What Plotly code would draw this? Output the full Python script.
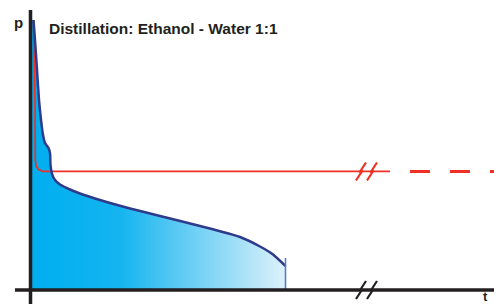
import plotly.graph_objects as go

# ---------------- data (time t, pressure p; arbitrary units) ----------------
t_blue = [1.18, 1.76, 2.55, 3.33, 4.12, 4.90, 5.69, 7.06, 7.65, 7.84, 8.43, 9.61,
          11.57, 15.49, 19.41, 27.25, 39.02, 50.78, 66.47, 82.16, 90.0, 95.1, 100.0]
p_blue = [100.0, 92.6, 81.5, 70.4, 63.0, 57.4, 54.4, 52.6, 50.7, 46.3, 43.0, 40.7,
          39.07, 37.22, 35.74, 33.33, 30.19, 27.41, 23.70, 19.63, 16.11, 13.15, 8.89]
t_end = [100.0, 100.0]
p_end = [11.85, 0.0]

t_red = [1.18, 1.57, 1.76, 1.88, 2.24, 3.14, 4.90, 140.98]
p_red = [100.0, 85.2, 70.4, 48.1, 45.9, 44.6, 43.9, 43.9]
t_red_dash = [148.8, 186.0]
p_red_dash = [43.9, 43.9]

title_text = "Distillation: Ethanol - Water 1:1"
y_label = "p"
x_label = "t"

# ---------------- layout geometry ----------------
OFF = 8                    # page body margin of the browser
W, H = 502 - OFF, 304 - OFF
X0, Y0 = 30.5, 290.0       # reference pixel position of origin
SX, SY = 2.55, 2.70        # pixels per data unit
x_range = [-(X0 - OFF) / SX, (502 - X0) / SX]
y_range = [-(304 - Y0) / SY, (Y0 - OFF) / SY]

def px_t(x):
    return (x - X0) / SX

def px_p(y):
    return (Y0 - y) / SY

def paper_x(x):
    return (x - OFF) / W

def paper_y(y):
    return 1 - (y - OFF) / H

BLACK = "#231f20"
RED = "#ee3124"
NAVY = "#2e3a8c"

fig = go.Figure()

# boundary (y-axis + baseline) for the gradient fill
fig.add_trace(go.Scatter(x=[0.0, 0.0, t_blue[-1]], y=[p_blue[0], 0.0, 0.0], mode="lines",
                         line=dict(width=0), hoverinfo="skip", showlegend=False))
# gradient fill under the distillation curve
fig.add_trace(go.Scatter(
    x=t_blue, y=p_blue,
    mode="lines", line=dict(width=0, shape="spline", smoothing=0.6), fill="tonexty",
    fillgradient=dict(type="horizontal",
                      colorscale=[[0, "#00aeef"], [0.35, "#14b4f0"], [1, "#ddf1fa"]]),
    hoverinfo="skip", showlegend=False))

# red line (solid + dashed continuation)
fig.add_trace(go.Scatter(x=t_red, y=p_red, mode="lines",
                         line=dict(color=RED, width=1.7), showlegend=False))
fig.add_trace(go.Scatter(x=t_red_dash, y=p_red_dash, mode="lines",
                         line=dict(color=RED, width=3, dash="20px,20px"), showlegend=False))

# blue curve
fig.add_trace(go.Scatter(x=t_blue, y=p_blue, mode="lines",
                         line=dict(color=NAVY, width=2.5, shape="spline", smoothing=0.6),
                         showlegend=False))
fig.add_trace(go.Scatter(x=t_end, y=p_end, mode="lines",
                         line=dict(color="#5a7cc6", width=1.6), showlegend=False))

# axes lines
shapes = [
    dict(type="line", xref="x", yref="y", x0=px_t(15), x1=x_range[1] + 1, y0=0, y1=0,
         line=dict(color=BLACK, width=3.5)),
    dict(type="line", xref="x", yref="y", x0=0, x1=0, y0=px_p(10), y1=y_range[0] - 1,
         line=dict(color=BLACK, width=3.5)),
]
fig.update_layout(shapes=shapes)

# break marks
def break_mark(xpix, ypix, color):
    pts = [(11, -9), (4.5, 1), (7.5, -1), (1, 9)]
    return go.Scatter(x=[px_t(xpix + dx) for dx, dy in pts],
                      y=[px_p(ypix + dy) for dx, dy in pts],
                      mode="lines", line=dict(color=color, width=2.2),
                      hoverinfo="skip", showlegend=False)

for xb in (355, 366):
    fig.add_trace(break_mark(xb, 171.5, RED))
    fig.add_trace(break_mark(xb, 290, BLACK))

font_family = "Liberation Sans, Arial, sans-serif"
fig.add_annotation(x=paper_x(47), y=paper_y(28.5), xref="paper", yref="paper",
                   xanchor="left", yanchor="middle", showarrow=False,
                   text="<b>" + title_text + "</b>",
                   font=dict(family=font_family, size=15.5, color=BLACK))
fig.add_annotation(x=paper_x(18), y=paper_y(22.5), xref="paper", yref="paper",
                   xanchor="center", yanchor="middle", showarrow=False,
                   text="<b>" + y_label + "</b>",
                   font=dict(family=font_family, size=15, color=BLACK))
fig.add_annotation(x=paper_x(485), y=paper_y(296.5), xref="paper", yref="paper",
                   xanchor="center", yanchor="middle", showarrow=False,
                   text="<b>" + x_label + "</b>",
                   font=dict(family=font_family, size=13, color=BLACK))

fig.update_xaxes(range=x_range, visible=False, fixedrange=True)
fig.update_yaxes(range=y_range, visible=False, fixedrange=True)
fig.update_layout(width=W, height=H, margin=dict(l=0, r=0, t=0, b=0),
                  plot_bgcolor="white", paper_bgcolor="white")

fig.write_html("out.html")
